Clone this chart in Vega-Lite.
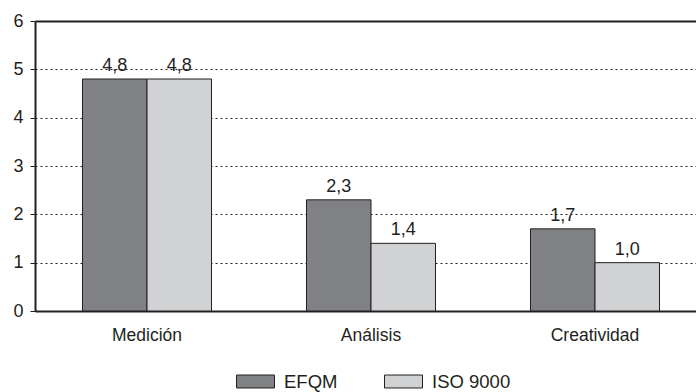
{
  "$schema": "https://vega.github.io/schema/vega-lite/v6.json",
  "autosize": "none",
  "width": 661,
  "height": 290,
  "padding": {"left": 35, "top": 21, "right": 0, "bottom": 81},
  "background": "#ffffff",
  "config": {
    "locale": {"number": {"decimal": ",", "thousands": ".", "grouping": [3], "currency": ["", " €"]}},
    "font": "Liberation Sans",
    "view": {"stroke": null},
    "axis": {"labelFont": "Liberation Sans", "labelColor": "#231f20", "domainColor": "#231f20", "tickColor": "#231f20"}
  },
  "data": {
    "values": [
      {"categoria": "Medición", "serie": "EFQM", "valor": 4.8},
      {"categoria": "Medición", "serie": "ISO 9000", "valor": 4.8},
      {"categoria": "Análisis", "serie": "EFQM", "valor": 2.3},
      {"categoria": "Análisis", "serie": "ISO 9000", "valor": 1.4},
      {"categoria": "Creatividad", "serie": "EFQM", "valor": 1.7},
      {"categoria": "Creatividad", "serie": "ISO 9000", "valor": 1.0}
    ]
  },
  "encoding": {
    "x": {
      "field": "categoria",
      "type": "nominal",
      "sort": ["Medición", "Análisis", "Creatividad"],
      "scale": {"range": [0, 672], "paddingInner": 0.424, "paddingOuter": 0.212},
      "axis": {
        "title": null,
        "labelAngle": 0,
        "labelFontSize": 17.5,
        "ticks": false,
        "labelPadding": 15,
        "domainWidth": 2,
        "grid": false
      }
    },
    "xOffset": {
      "field": "serie",
      "type": "nominal",
      "sort": ["EFQM", "ISO 9000"],
      "scale": {"paddingInner": 0, "paddingOuter": 0}
    },
    "y": {
      "field": "valor",
      "type": "quantitative",
      "scale": {"domain": [0, 6], "nice": false},
      "axis": {
        "title": null,
        "values": [0, 1, 2, 3, 4, 5, 6],
        "labelFontSize": 18,
        "tickSize": 5,
        "tickWidth": 1,
        "labelPadding": 7,
        "domainWidth": 2,
        "grid": true,
        "gridColor": "#231f20",
        "gridWidth": {"condition": {"test": "datum.value == 6", "value": 2}, "value": 1},
        "gridDash": {"condition": {"test": "datum.value == 6", "value": []}, "value": [2, 3]},
        "gridOpacity": 1
      }
    }
  },
  "layer": [
    {
      "mark": {"type": "bar", "stroke": "#231f20", "strokeWidth": 1},
      "encoding": {
        "fill": {
          "field": "serie",
          "type": "nominal",
          "sort": ["EFQM", "ISO 9000"],
          "scale": {"domain": ["EFQM", "ISO 9000"], "range": ["#808184", "#d1d2d4"]},
          "legend": {
            "title": null,
            "orient": "none",
            "direction": "horizontal",
            "legendX": 201,
            "legendY": 341,
            "symbolType": "M-1,-0.342L1,-0.342L1,0.342L-1,0.342Z",
            "symbolSize": 1444,
            "symbolStrokeColor": "#231f20",
            "symbolStrokeWidth": 1,
            "symbolOpacity": 1,
            "labelFontSize": 18.5,
            "labelColor": "#231f20",
            "labelOffset": 9,
            "columnPadding": 44
          }
        }
      }
    },
    {
      "mark": {"type": "text", "baseline": "bottom", "dy": -4, "fontSize": 18, "color": "#231f20"},
      "encoding": {
        "text": {"field": "valor", "type": "quantitative", "format": ".1f"}
      }
    }
  ]
}
